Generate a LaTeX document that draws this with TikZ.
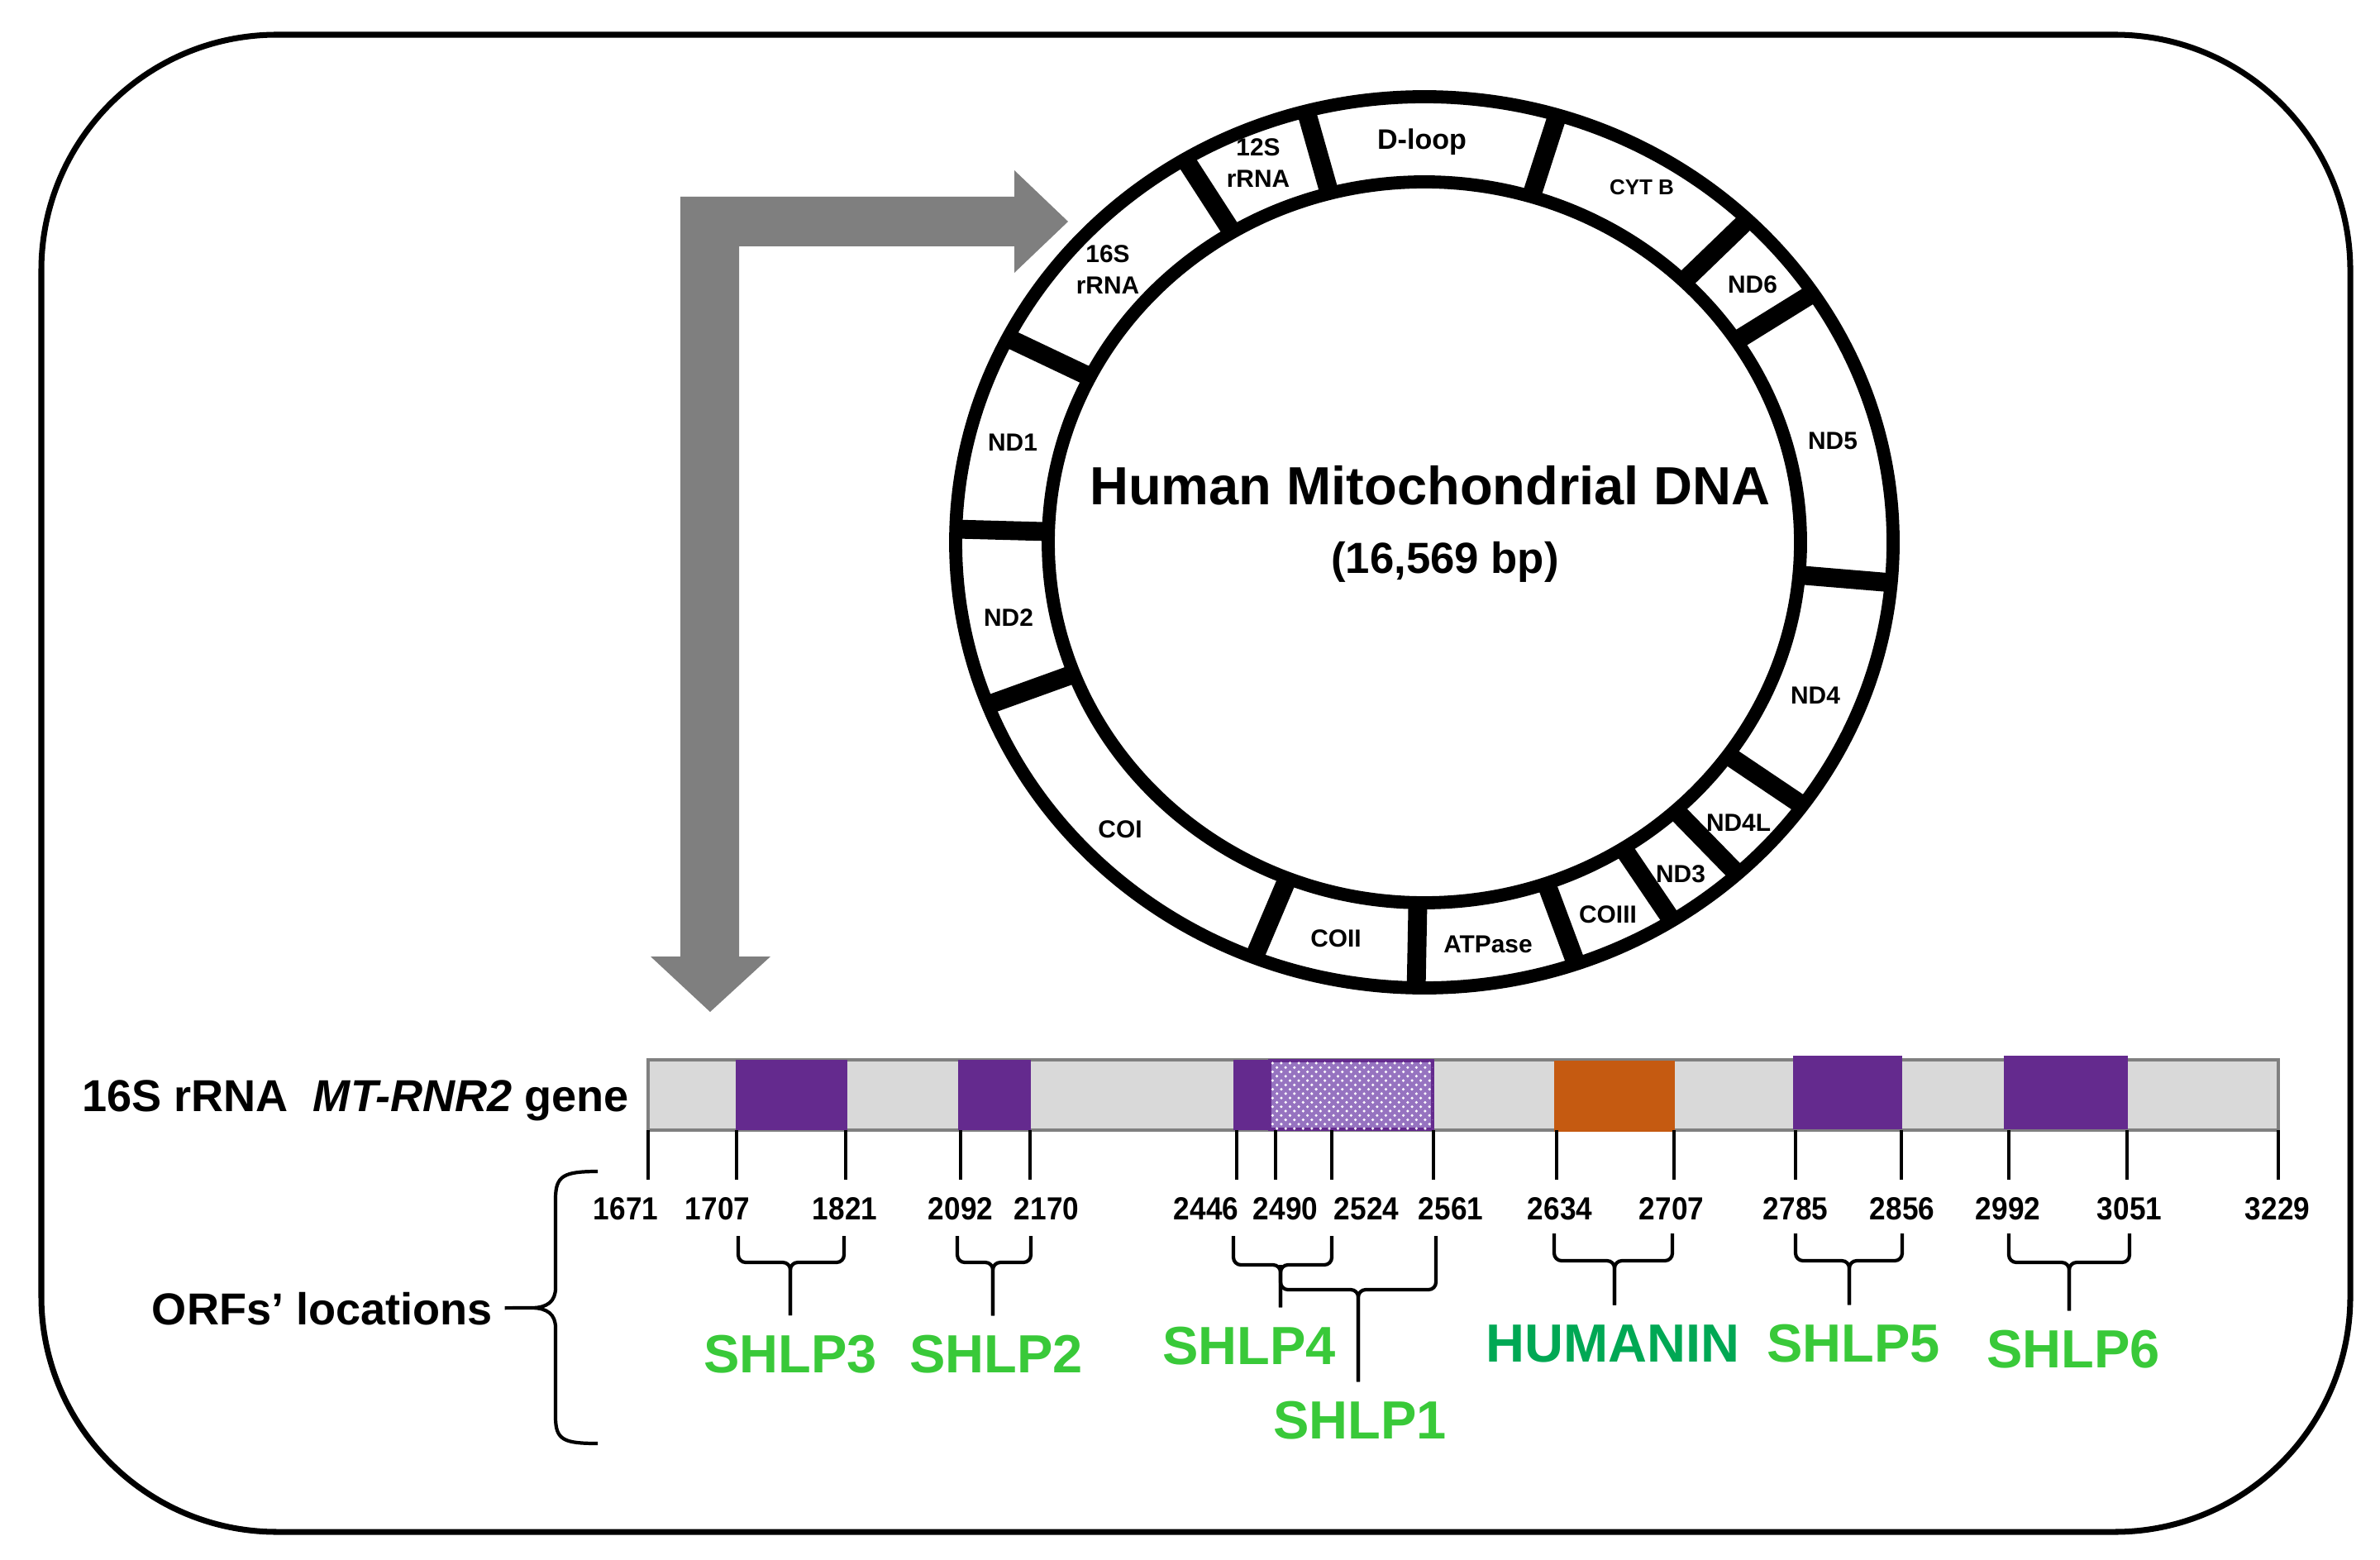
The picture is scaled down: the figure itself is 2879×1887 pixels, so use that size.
\documentclass[tikz,border=0pt]{standalone}
\usepackage{fontspec}
\setmainfont{Liberation Sans}
\usepackage{tikz}
\usetikzlibrary{patterns}

\definecolor{orfpurple}{RGB}{100,42,142}
\definecolor{hnorange}{RGB}{197,90,17}
\definecolor{bargray}{RGB}{217,217,217}
\definecolor{barline}{RGB}{128,128,128}
\definecolor{arrowgray}{RGB}{127,127,127}
\definecolor{shlpgreen}{RGB}{57,201,57}
\definecolor{hngreen}{RGB}{0,168,84}
\definecolor{hatchpurple}{RGB}{150,115,192}

\begin{document}
\begin{tikzpicture}[x=0.1mm, y=-0.1mm,
    gene/.style={font=\fontsize{8.5}{10.8}\selectfont\bfseries, align=center, inner sep=0pt},
    numlabel/.style={font=\fontsize{11}{13}\selectfont\bfseries, inner sep=0pt},
    orf/.style={font=\fontsize{18.5}{22}\selectfont\bfseries, text=shlpgreen, inner sep=2.3mm},
    heading/.style={font=\fontsize{15.4}{18}\selectfont\bfseries, inner sep=0pt},
    ring/.style={line width=4.5pt},
    divider/.style={line width=6.5pt},
    tickline/.style={line width=1.2pt},
    bracket/.style={line width=1.2pt, rounded corners=0.9mm}]

\useasboundingbox (0,0) rectangle (2879,1887);

% frame
\draw[line width=2pt, rounded corners=28.5mm] (50,42) rectangle (2843,1853);

% bent arrow
\fill[arrowgray] (823,1157) -- (823,238) -- (1227,238) -- (1227,206) -- (1292,268)
  -- (1227,330) -- (1227,298) -- (894,298) -- (894,1157) -- (932,1157)
  -- (859,1224) -- (787,1157) -- cycle;

% mitochondrial genome ring
\coordinate (mt) at (1723,656);
\draw[ring] (mt) ellipse [x radius=567, y radius=539];
\draw[ring] (mt) ellipse [x radius=455, y radius=436];
\foreach \a in {104.6, 73.5, 46.4, 34, -5.2, -36.2, -48.1, -58.1, -71.1, -91, -111.3, -158.6, 178.3, 152.7, 120.7}
  \draw[divider] ({1723+455*cos(\a)},{656-436*sin(\a)}) -- ({1723+567*cos(\a)},{656-539*sin(\a)});

\node[gene] (rrna12) at (1522,197) {12S\\rRNA};
\node[gene, font=\fontsize{9.7}{11}\selectfont\bfseries] (dloop) at (1720,172) {D-loop};
\node[gene, font=\fontsize{7.4}{9}\selectfont\bfseries] (cytb) at (1986,227) {CYT B};
\node[gene] (nd6) at (2120,344) {ND6};
\node[gene] (nd5) at (2217,533) {ND5};
\node[gene] (nd4) at (2196,841) {ND4};
\node[gene] (nd4l) at (2103,995) {ND4L};
\node[gene] (nd3) at (2033,1057) {ND3};
\node[gene] (coiii) at (1945,1106) {COIII};
\node[gene] (atpase) at (1800,1142) {ATPase};
\node[gene] (coii) at (1616,1135) {COII};
\node[gene] (coi) at (1355,1003) {COI};
\node[gene] (nd2) at (1220,747) {ND2};
\node[gene] (nd1) at (1225,535) {ND1};
\node[gene] (rrna16) at (1340,326) {16S\\rRNA};

\node[font=\fontsize{18.5}{22}\selectfont\bfseries, inner sep=0pt] (title) at (1730,587) {Human Mitochondrial DNA};
\node[font=\fontsize{15}{18}\selectfont\bfseries, inner sep=0pt] (bp) at (1748,680) {(16,569 bp)};

% 16S rRNA gene bar
\node[heading] (genename) at (430,1331) {16S rRNA\ \ \textit{MT-RNR2} gene};
\draw[barline, fill=bargray, line width=1.1pt] (784,1282) rectangle (2756,1367);
\fill[orfpurple] (890,1282) rectangle (1025,1367);
\fill[orfpurple] (1159,1282) rectangle (1247,1367);
\fill[orfpurple] (1492,1282) rectangle (1536,1367);
\draw[orfpurple, line width=1.1pt, fill=hatchpurple, postaction={pattern=crosshatch dots, pattern color=white}] (1536,1283) rectangle (1733,1366);
\fill[hnorange] (1880,1283) rectangle (2026,1369);
\fill[orfpurple] (2169,1277) rectangle (2301,1366);
\fill[orfpurple] (2424,1277) rectangle (2574,1366);

% positions
\foreach \t/\l/\n in {784/757/1671, 891/868/1707, 1023/1022/1821, 1162/1162/2092, 1246/1266/2170,
    1496/1459/2446, 1543/1555/2490, 1611/1653/2524, 1734/1755/2561, 1883/1887/2634,
    2025/2022/2707, 2172/2172/2785, 2300/2301/2856, 2430/2429/2992, 2573/2576/3051, 2756/2755/3229} {
  \draw[tickline] (\t,1367) -- (\t,1427);
  \node[numlabel] (p\n) at (\l,1462) {\scalebox{0.91}[1]{\n}};
}

% ORF labels
\node[orf] (shlp3) at (956,1638) {SHLP3};
\node[orf] (shlp2) at (1205,1638) {SHLP2};
\node[orf] (shlp4) at (1511,1628) {SHLP4};
\node[orf] (shlp1) at (1645,1718) {SHLP1};
\node[orf, text=hngreen] (humanin) at (1951,1625) {HUMANIN};
\node[orf] (shlp5) at (2242,1625) {SHLP5};
\node[orf] (shlp6) at (2508,1632) {SHLP6};

% brackets
\draw[bracket] (893,1495) -- (893,1527) -- (956,1527) -- (956,0 |- shlp3.north);
\draw[bracket] (1021,1495) -- (1021,1527) -- (956,1527) -- (956,0 |- shlp3.north);
\draw[bracket] (1158,1495) -- (1158,1527) -- (1201,1527) -- (1201,0 |- shlp2.north);
\draw[bracket] (1247,1495) -- (1247,1527) -- (1201,1527) -- (1201,0 |- shlp2.north);
\draw[bracket] (1492,1495) -- (1492,1530) -- (1549,1530) -- (1549,0 |- shlp4.north);
\draw[bracket] (1611,1495) -- (1611,1530) -- (1549,1530) -- (1549,0 |- shlp4.north);
\draw[bracket] (1549,1530) -- (1549,1560) -- (1643,1560) -- (1643,0 |- shlp1.north);
\draw[bracket] (1737,1495) -- (1737,1560) -- (1643,1560) -- (1643,0 |- shlp1.north);
\draw[bracket] (1880,1492) -- (1880,1525) -- (1953,1525) -- (1953,0 |- humanin.north);
\draw[bracket] (2023,1492) -- (2023,1525) -- (1953,1525) -- (1953,0 |- humanin.north);
\draw[bracket] (2172,1492) -- (2172,1525) -- (2237,1525) -- (2237,0 |- shlp5.north);
\draw[bracket] (2301,1492) -- (2301,1525) -- (2237,1525) -- (2237,0 |- shlp5.north);
\draw[bracket] (2430,1492) -- (2430,1527) -- (2503,1527) -- (2503,0 |- shlp6.north);
\draw[bracket] (2576,1492) -- (2576,1527) -- (2503,1527) -- (2503,0 |- shlp6.north);

% ORFs' locations
\node[heading, inner sep=1.4mm] (orfs) at (390,1583) {ORFs’ locations};
\coordinate (bracetip) at (643,1582);
\draw[tickline] (723,1417) .. controls (682,1417) and (672,1422) .. (672,1450) -- (672,1558)
  .. controls (672,1574) and (662,1582) .. (bracetip)
  .. controls (662,1582) and (672,1590) .. (672,1606) -- (672,1714)
  .. controls (672,1742) and (682,1746) .. (723,1746);
\draw[tickline] (orfs) -- (bracetip);

\end{tikzpicture}
\end{document}
